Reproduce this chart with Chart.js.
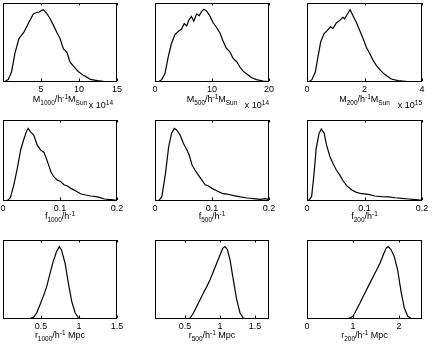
<!DOCTYPE html>
<html><head><meta charset="utf-8">
<script src="https://cdn.jsdelivr.net/npm/chart.js@4"></script>
<style>
html,body{margin:0;padding:0;background:#fff;}
body{width:432px;height:349px;position:relative;overflow:hidden;}
canvas{position:absolute;}
</style></head><body>
<script>
// ---------- DATA (relative density, peak-normalised to panel height) ----------
const m1000X = [0.1,0.68,1.13,1.56,2.1,2.75,3.33,3.99,4.4,4.78,5.1,5.3,5.75,6.2,6.63,7.07,7.5,7.95,8.4,8.83,9.27,9.93,10.6,11.5,12.4,13.2,14.1,15];
const m1000Y = [0,0.03,0.13,0.36,0.55,0.63,0.74,0.86,0.88,0.886,0.907,0.916,0.87,0.80,0.72,0.63,0.55,0.42,0.38,0.25,0.20,0.13,0.084,0.034,0.017,0.008,0.004,0];

const m500X = [0.58,1.17,1.75,2.33,2.9,3.5,4.08,4.66,5.13,5.54,6.0,6.4,6.8,7.3,7.76,8.16,8.57,9.04,9.6,10.2,10.8,11.4,11.95,12.5,13.1,13.7,14.3,14.9,15.45,16.0,16.9,17.8,18.95,20];
const m500Y = [0,0.03,0.107,0.32,0.49,0.60,0.64,0.67,0.74,0.71,0.79,0.83,0.77,0.86,0.84,0.89,0.92,0.90,0.84,0.75,0.69,0.62,0.515,0.43,0.386,0.30,0.26,0.19,0.137,0.107,0.056,0.03,0.013,0.004];

const m200X = [0.06,0.17,0.29,0.38,0.475,0.59,0.71,0.82,0.9,1.02,1.14,1.25,1.31,1.4,1.5,1.6,1.71,1.83,1.95,2.06,2.18,2.3,2.41,2.53,2.7,2.93,3.17,3.5,3.97];
const m200Y = [0,0.03,0.127,0.316,0.506,0.61,0.654,0.70,0.675,0.747,0.78,0.82,0.80,0.857,0.916,0.84,0.76,0.654,0.55,0.443,0.36,0.274,0.21,0.156,0.097,0.038,0.017,0.004,0];

const f1000X = [0.007,0.013,0.019,0.025,0.031,0.036,0.041,0.044,0.048,0.054,0.06,0.066,0.072,0.078,0.084,0.089,0.095,0.101,0.107,0.113,0.119,0.128,0.136,0.145,0.154,0.166,0.178,0.189,0.2];
const f1000Y = [0,0.04,0.2,0.40,0.63,0.75,0.856,0.897,0.856,0.815,0.69,0.63,0.60,0.486,0.36,0.30,0.26,0.24,0.20,0.185,0.156,0.123,0.09,0.074,0.062,0.05,0.025,0.016,0.008];

const f500X = [0.006,0.012,0.018,0.024,0.029,0.034,0.038,0.044,0.05,0.056,0.06,0.065,0.07,0.076,0.082,0.088,0.094,0.1,0.109,0.118,0.126,0.138,0.15,0.162,0.173,0.185,0.194,0.2];
const f500Y = [0,0.053,0.32,0.67,0.835,0.897,0.877,0.815,0.71,0.63,0.568,0.444,0.383,0.32,0.26,0.20,0.185,0.156,0.123,0.095,0.086,0.066,0.05,0.037,0.029,0.02,0.029,0.016];

const f200X = [0.002,0.008,0.012,0.016,0.021,0.025,0.03,0.034,0.04,0.045,0.051,0.057,0.063,0.069,0.078,0.086,0.095,0.107,0.118,0.13,0.142,0.153,0.165,0.177,0.189,0.2];
const f200Y = [0,0.053,0.32,0.65,0.835,0.89,0.835,0.69,0.547,0.465,0.383,0.32,0.247,0.19,0.136,0.107,0.09,0.082,0.062,0.053,0.05,0.04,0.033,0.025,0.016,0.008];

const r1000X = [0,0.333,0.4,0.443,0.487,0.53,0.575,0.62,0.66,0.705,0.74,0.77,0.817,0.86,0.905,0.95,0.993,1.06,1.5];
const r1000Y = [0,0,0.02,0.076,0.18,0.286,0.41,0.58,0.727,0.853,0.916,0.874,0.706,0.454,0.22,0.076,0.013,0,0];

const r500X = [0.07,0.524,0.571,0.62,0.667,0.714,0.762,0.81,0.857,0.905,0.952,1.0,1.038,1.071,1.105,1.143,1.19,1.238,1.286,1.333,1.38,1.705];
const r500Y = [0,0,0.013,0.076,0.16,0.244,0.328,0.41,0.496,0.60,0.706,0.81,0.895,0.916,0.88,0.748,0.496,0.244,0.076,0.013,0,0];

const r200X = [0,0.858,0.93,1.0,1.076,1.149,1.22,1.295,1.367,1.44,1.513,1.585,1.658,1.716,1.767,1.825,1.898,1.971,2.044,2.116,2.19,2.276,2.51];
const r200Y = [0,0,0.013,0.034,0.118,0.20,0.286,0.37,0.454,0.538,0.62,0.706,0.81,0.895,0.916,0.88,0.79,0.62,0.35,0.139,0.034,0.004,0];

// ---------- TICKS ----------
const m1000Ticks = [5,10,15];      const m1000TickLabels = ['5','10','15'];
const m500Ticks  = [0,10,20];      const m500TickLabels  = ['0','10','20'];
const m200Ticks  = [0,2,4];        const m200TickLabels  = ['0','2','4'];
const fTicks     = [0,0.1,0.2];    const fTickLabels     = ['0','0.1','0.2'];
const r1000Ticks = [0.5,1,1.5];    const r1000TickLabels = ['0.5','1','1.5'];
const r500Ticks  = [0.5,1,1.5];    const r500TickLabels  = ['0.5','1','1.5'];
const r200Ticks  = [0,1,2];        const r200TickLabels  = ['0','1','2'];

// axis ranges
const m1000Range = [0,15], m500Range = [0,20], m200Range = [0,4];
const fRange = [0,0.2];
const r1000Range = [0,1.5], r500Range = [0.07,1.7], r200Range = [0,2.5];

// ---------- LABEL TEXT ----------
const massLabel = (n) => [{t:'M'},{t:n,s:'sub'},{t:'/h'},{t:'-1',s:'sup'},{t:'M'},{t:'Sun',s:'sub'}];
const fLabel = (n) => [{t:'f'},{t:n,s:'sub'},{t:'/h'},{t:'-1',s:'sup'}];
const rLabel = (n) => [{t:'r'},{t:n,s:'sub'},{t:'/h'},{t:'-1',s:'sup'},{t:' Mpc'}];
const expLabel = (e) => [{t:'x 10'},{t:e,s:'sup'}];

// ---------- LAYOUT ----------
const cols = [{l:3,r:117},{l:155,r:269},{l:307,r:422}];
const rows = [{t:3,b:82,lab:20,exp:26},{t:120,b:201,lab:18,exp:0},{t:240,b:319,lab:19,exp:0}];
const FONT = '"Liberation Sans", Arial, sans-serif';

const panels = [
  {c:0,r:0,x:m1000X,y:m1000Y,rng:m1000Range,ticks:m1000Ticks,tl:m1000TickLabels,label:massLabel('1000'),exp:expLabel('14'),expR:-4},
  {c:1,r:0,x:m500X,y:m500Y,rng:m500Range,ticks:m500Ticks,tl:m500TickLabels,label:massLabel('500'),exp:expLabel('14'),expR:0},
  {c:2,r:0,x:m200X,y:m200Y,rng:m200Range,ticks:m200Ticks,tl:m200TickLabels,label:massLabel('200'),exp:expLabel('15'),expR:0},
  {c:0,r:1,x:f1000X,y:f1000Y,rng:fRange,ticks:fTicks,tl:fTickLabels,label:fLabel('1000')},
  {c:1,r:1,x:f500X,y:f500Y,rng:fRange,ticks:fTicks,tl:fTickLabels,label:fLabel('500')},
  {c:2,r:1,x:f200X,y:f200Y,rng:fRange,ticks:fTicks,tl:fTickLabels,label:fLabel('200')},
  {c:0,r:2,x:r1000X,y:r1000Y,rng:r1000Range,ticks:r1000Ticks,tl:r1000TickLabels,label:rLabel('1000')},
  {c:1,r:2,x:r500X,y:r500Y,rng:r500Range,ticks:r500Ticks,tl:r500TickLabels,label:rLabel('500')},
  {c:2,r:2,x:r200X,y:r200Y,rng:r200Range,ticks:r200Ticks,tl:r200TickLabels,label:rLabel('200')},
];

const PADL = 14, PADR = 14, PADT = 4, BOTTOM = 32;
const MAIN = 9, SMALL = 6.5;

function drawRich(ctx, parts, x, y, align) {
  let w = 0;
  parts.forEach(p => { ctx.font = (p.s ? SMALL : MAIN) + 'px ' + FONT; w += ctx.measureText(p.t).width; });
  let cx = align === 'center' ? x - w / 2 : (align === 'right' ? x - w : x);
  ctx.textAlign = 'left'; ctx.textBaseline = 'alphabetic'; ctx.fillStyle = '#000';
  parts.forEach(p => {
    ctx.font = (p.s ? SMALL : MAIN) + 'px ' + FONT;
    const dy = p.s === 'sub' ? 3 : (p.s === 'sup' ? -3.5 : 0);
    ctx.fillText(p.t, cx, y + dy);
    cx += ctx.measureText(p.t).width;
  });
}

const framePlugin = {
  id: 'frame',
  afterDraw(chart) {
    const ctx = chart.ctx, a = chart.chartArea, p = chart.options.plugins.frame;
    const xs = chart.scales.x;
    ctx.save();
    ctx.strokeStyle = '#000'; ctx.lineWidth = 1;
    ctx.strokeRect(Math.round(a.left) + 0.5, Math.round(a.top) + 0.5, Math.round(a.right - a.left) - 1, Math.round(a.bottom - a.top) - 1);
    ctx.beginPath();
    p.ticks.forEach(v => {
      const px = Math.round(xs.getPixelForValue(v)) + 0.5;
      ctx.moveTo(px, a.bottom - 1); ctx.lineTo(px, a.bottom - 3.5);
      ctx.moveTo(px, a.top); ctx.lineTo(px, a.top + 2.5);
    });
    ctx.stroke();
    const cxm = (a.left + a.right) / 2;
    drawRich(ctx, p.label, cxm, a.bottom + p.lab, 'center');
    if (p.exp) drawRich(ctx, p.exp, a.right + p.expR, a.bottom + p.expOff, 'right');
    ctx.restore();
  }
};

panels.forEach(pn => {
  const col = cols[pn.c], row = rows[pn.r];
  const W = (col.r - col.l) + PADL + PADR;
  const H = (row.b - row.t) + PADT + BOTTOM;
  const cv = document.createElement('canvas');
  cv.width = W; cv.height = H;
  cv.style.left = (col.l - PADL) + 'px'; cv.style.top = (row.t - PADT) + 'px';
  cv.style.width = W + 'px'; cv.style.height = H + 'px';
  document.body.appendChild(cv);
  new Chart(cv, {
    type: 'line',
    data: { datasets: [{ data: pn.x.map((v, i) => ({x: v, y: pn.y[i]})), borderColor: '#000', borderWidth: 1.2, pointRadius: 0, tension: 0, fill: false }] },
    options: {
      responsive: false, animation: false, devicePixelRatio: 1,
      layout: { padding: { left: PADL, right: PADR, top: PADT, bottom: 0 } },
      plugins: {
        legend: { display: false }, tooltip: { enabled: false },
        frame: { ticks: pn.ticks, label: pn.label, exp: pn.exp, expR: pn.expR || 0, lab: row.lab, expOff: row.exp }
      },
      scales: {
        x: {
          type: 'linear', min: pn.rng[0], max: pn.rng[1],
          grid: { display: false, drawTicks: false }, border: { display: false },
          afterBuildTicks: (s) => { s.ticks = pn.ticks.map(v => ({value: v})); },
          afterFit: (s) => { s.height = BOTTOM; },
          ticks: { autoSkip: false, maxRotation: 0, padding: 2, color: '#000', font: { family: FONT, size: 9 },
                   callback: (v, i) => pn.tl[i] }
        },
        y: { display: false, min: 0, max: 1 }
      }
    },
    plugins: [framePlugin]
  });
});
</script>
</body></html>
